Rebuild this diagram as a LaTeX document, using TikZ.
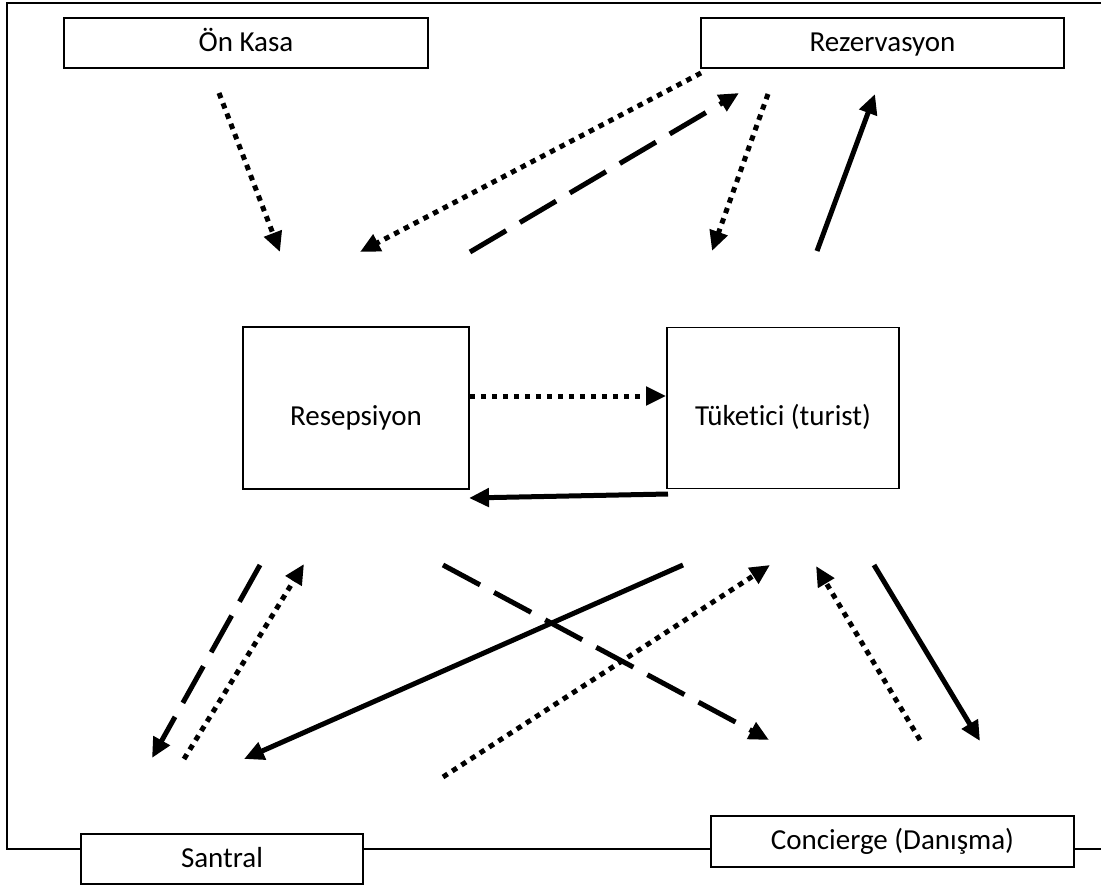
\documentclass[tikz,border=0pt]{standalone}
\usepackage{fontspec}
\setmainfont{Carlito}[Ligatures=NoCommon]
\usetikzlibrary{arrows.meta}
\begin{document}
\begin{tikzpicture}[x=1pt,y=-1pt,
  box/.style={draw,line width=1.8pt,fill=white,inner sep=0pt,
    font=\fontsize{29}{34}\selectfont,text height=22pt,text depth=6pt},
  bigbox/.style={box,text height=40pt,text depth=6pt},
  flow/.style={line width=5pt,-{Triangle[length=20pt,width=18pt]}},
  solidflow/.style={flow},
  dotflow/.style={flow,line cap=butt,dash pattern=on 5.5pt off 5.5pt},
  dashflow/.style={flow,line cap=butt,dash pattern=on 42pt off 16pt}]
\useasboundingbox (0,0) rectangle (1101,889);

% open frame
\coordinate (fr1) at (1101,3);
\coordinate (fr2) at (7,3);
\coordinate (fr3) at (7,849);
\coordinate (fr4) at (1101,849);
\draw[line width=1.8pt] (fr1) -- (fr2) -- (fr3) -- (fr4);

% departments
\node[box,minimum width=364pt,minimum height=50pt] (onkasa) at (246,43) {Ön Kasa};
\node[box,minimum width=363pt,minimum height=50pt] (rez) at (882.5,43) {Rezervasyon};
\node[bigbox,minimum width=226pt,minimum height=162pt] (res) at (356,408) {Resepsiyon};
\node[bigbox,minimum width=232pt,minimum height=161pt] (tuk) at (783,408) {Tüketici (turist)};
\node[box,minimum width=282pt,minimum height=50pt] (santral) at (222,859) {Santral};
\node[box,minimum width=363pt,minimum height=51pt] (conc) at (892.5,841.5) {Concierge (Danışma)};

% free ends of the flows
\coordinate (a1) at (219,93);   \coordinate (b1) at (280,252);
\coordinate (a2) at (701,73);   \coordinate (b2) at (360,252);
\coordinate (a3) at (470,252);  \coordinate (b3) at (739,93);
\coordinate (a4) at (768,94);   \coordinate (b4) at (712,251);
\coordinate (a5) at (817,251);  \coordinate (b5) at (875,94);
\coordinate (a6) at (res.east |- 0,396); \coordinate (b6) at (tuk.west |- 0,396);
\coordinate (a7) at (668,494);  \coordinate (b7) at (469,498);
\coordinate (a8) at (260,565);  \coordinate (b8) at (152,758);
\coordinate (a9) at (184,759);  \coordinate (b9) at (304,564);
\coordinate (a10) at (683,565); \coordinate (b10) at (244,759);
\coordinate (a11) at (443,565); \coordinate (b11) at (769,740);
\coordinate (a12) at (443,777); \coordinate (b12) at (770,565);
\coordinate (a13) at (920,740); \coordinate (b13) at (816,566);
\coordinate (a14) at (874,565); \coordinate (b14) at (980,741);

% flows
\draw[dotflow] (a1) -- (b1);
\draw[dotflow] (a2) -- (b2);
\draw[dashflow] (a3) -- (b3);
\draw[dotflow] (a4) -- (b4);
\draw[solidflow] (a5) -- (b5);
\draw[dotflow] (a6) -- (b6);
\draw[solidflow] (a7) -- (b7);
\draw[dashflow] (a8) -- (b8);
\draw[dotflow] (a9) -- (b9);
\draw[solidflow] (a10) -- (b10);
\draw[dashflow] (a11) -- (b11);
\draw[dotflow] (a12) -- (b12);
\draw[dotflow] (a13) -- (b13);
\draw[solidflow] (a14) -- (b14);
\end{tikzpicture}
\end{document}
